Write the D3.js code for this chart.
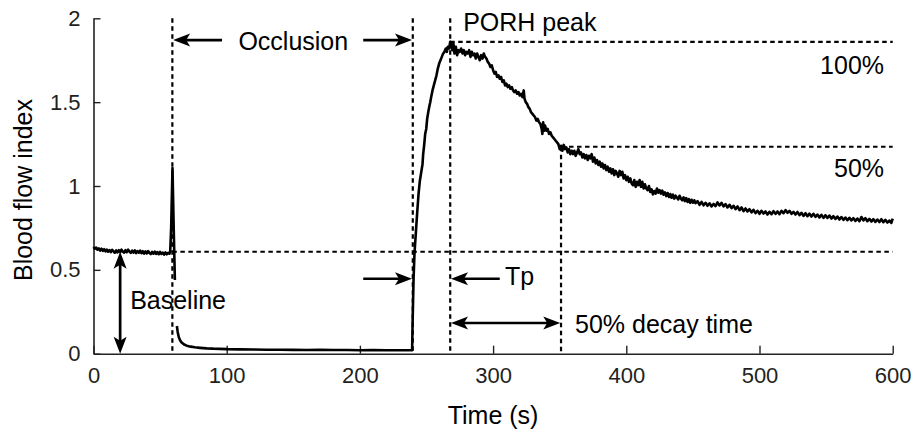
<!DOCTYPE html>
<html lang="en">
<head>
  <meta charset="UTF-8" />
  <title>Blood flow index – PORH</title>
  <script src="https://cdn.jsdelivr.net/npm/d3@7/dist/d3.min.js"></script>
  <style>
    html, body { margin: 0; padding: 0; background: #fff; }
    #viz { width: 915px; height: 433px; }
    text { font-family: "Liberation Sans", Arial, sans-serif; }
  </style>
</head>
<body>
  <div id="viz"></div>

  <script>
  // ticks
  const timeTicks = [0, 100, 200, 300, 400, 500, 600];
  const flowTicks = [0, 0.5, 1, 1.5, 2];

  // key events (s) and levels
  const occlusionStart = 59.2;
  const cuffRelease = 239.7;
  const peakTime = 267.8;
  const halfDecayTime = 351;
  const baselineFlow = 0.608;
  const peakFlow = 1.86;
  const halfFlow = 1.234;

  // [time s, blood flow index]
  const restPhase = [
    [0,0.636],[1,0.626],[2,0.633],[3,0.62],[4,0.628],[5,0.615],[6,0.626],[7,0.613],[8,0.623],[9,0.61],
    [10,0.621],[11,0.608],[12,0.618],[13,0.606],[14,0.619],[15,0.61],[16,0.602],[17,0.616],[18,0.604],[19,0.617],
    [20,0.606],[21,0.62],[22,0.608],[23,0.603],[24,0.617],[25,0.605],[26,0.62],[27,0.609],[28,0.601],[29,0.614],
    [30,0.603],[31,0.616],[32,0.6],[33,0.612],[34,0.602],[35,0.615],[36,0.599],[37,0.611],[38,0.597],[39,0.61],
    [40,0.598],[41,0.612],[42,0.6],[43,0.594],[44,0.607],[45,0.596],[46,0.609],[47,0.595],[48,0.606],[49,0.593],
    [50,0.607],[51,0.595],[52,0.603],[53,0.591],[54,0.604],[55,0.593],[56,0.601],[57,0.596],[57.6,0.61],
    [58.3,0.75],[59.3,1.107],[60.3,0.72],[61.1,0.44]
  ];

  const occlusionPhase = [
    [62.6,0.165],[63.2,0.13],[64,0.1],[65,0.08],[66,0.068],[68,0.055],[70,0.048],[73,0.042],[76,0.038],
    [80,0.035],[85,0.032],[90,0.03],[95,0.029],[100,0.027],[110,0.026],[120,0.025],[130,0.024],[140,0.024],
    [150,0.023],[160,0.022],[170,0.023],[180,0.022],[190,0.022],[200,0.021],[210,0.022],[220,0.021],
    [230,0.021],[239.2,0.021]
  ];

  const reperfusionPhase = [
    [239.6,0.2],[240.3,0.45],[241,0.6],[242,0.72],[243,0.84],[244,0.95],[245,1.03],[246,1.08],[247,1.13],
    [247.5,1.19],[248.2,1.24],[249,1.31],[249.8,1.34],[250.5,1.4],[251.3,1.44],[252,1.47],[252.8,1.5],
    [253.5,1.53],[254.5,1.57],[255.5,1.6],[256.5,1.63],[257.5,1.66],[258.5,1.7],[259.5,1.73],[260.5,1.75],
    [261.5,1.77],[262.5,1.79],[263.5,1.8],[264.5,1.82],[265.3,1.8],[266,1.83],[267,1.82],[267.8,1.86],
    [268.6,1.84],[269.4,1.81],[270.2,1.85],[271,1.79],[272,1.83],[273,1.78],[274,1.81],[275,1.8],[276,1.82],
    [277,1.79],[278,1.81],[279,1.78],[280,1.8],[281,1.79],[282,1.81],[283,1.77],[284,1.8],[285,1.78],
    [286,1.79],[287,1.76],[288,1.79],[289,1.77],[290,1.75],[291,1.78],[292,1.76],[293,1.79],[294,1.77],
    [295,1.76],[296,1.74],[297,1.73],[298,1.71],[299,1.72],[300,1.69],[301,1.67],[302,1.68],[303,1.65],
    [304,1.66],[305,1.64],[306,1.65],[307,1.62],[308,1.63],[309,1.6],[310,1.61],[311,1.59],[312,1.6],
    [313,1.58],[314,1.59],[315,1.57],[316,1.56],[317,1.57],[318,1.55],[319,1.56],[320,1.54],[321,1.55],
    [322,1.53],[323,1.57],[323.6,1.52],[324.5,1.5],[325.5,1.49],[326.5,1.47],[327.5,1.46],[328.5,1.44],
    [329.5,1.43],[330.5,1.42],[331.5,1.41],[332.5,1.39],[333.5,1.4],[334.5,1.38],[335.5,1.37],[336.5,1.34],
    [337,1.31],[337.6,1.38],[338.3,1.33],[339,1.36],[340,1.33],[341,1.34],[342,1.31],[343,1.32],[344,1.3],
    [345,1.29],[346,1.28],[347,1.27],[348,1.26],[349,1.25],[350,1.22],[351,1.24],[352,1.21],[353,1.245],
    [354,1.22],[355,1.23],[356,1.2],[357,1.22],[358,1.19],[359,1.21],[360,1.19],[361,1.21],[362,1.18],
    [363,1.2],[364,1.22],[365,1.19],[366,1.2],[367,1.17],[368,1.19],[369,1.165],[370,1.185],[371,1.155],
    [372,1.18],[373,1.165],[374,1.19],[375,1.145],[376,1.17],[377,1.135],[378,1.155],[379,1.125],[380,1.145],
    [381,1.115],[382,1.135],[383,1.105],[384,1.125],[385,1.095],[386,1.115],[387,1.085],[388,1.105],[389,1.075],
    [390,1.1],[391,1.065],[392,1.09],[393,1.075],[394,1.055],[395,1.09],[396,1.065],[397,1.085],[398,1.045],
    [399,1.065],[400,1.035],[401,1.055],[402,1.025],[403,1.045],[404,1.015],[405,1.005],[406,1.035],[407,0.995],
    [408,1.025],[409,1.005],[410,1.035],[411,0.995],[412,1.025],[413,0.985],[414,1.01],[415,0.985],[416,0.975],
    [417,1.0],[418,0.965],[419,0.98],[420,0.95],[421,0.97],[422,0.955],[423,0.985],[424,0.96],[425,0.975],
    [426,0.955],[427,0.972],[428,0.948],[429,0.962],[430,0.94],[431,0.958],[432,0.935],[433,0.952],[434,0.93],
    [435,0.948],[436,0.925],[437,0.942],[438,0.93],[439,0.92],[440,0.942],[441,0.925],[442,0.915],[443,0.932],
    [444,0.91],[445,0.928],[446,0.905],[447,0.922],[448,0.9],[449,0.918],[450,0.9],[451,0.915],[452,0.898],
    [453.5,0.91],[455,0.888],[456.5,0.905],[458,0.885],[459.5,0.9],[461,0.882],[462.5,0.897],[464,0.878],
    [465.5,0.893],[467,0.88],[468.5,0.902],[470,0.884],[471.5,0.9],[473,0.878],[474.5,0.892],[476,0.872],
    [477.5,0.888],[479,0.868],[480.5,0.882],[482,0.862],[483.5,0.878],[485,0.856],[486.5,0.872],[488,0.85],
    [489.5,0.866],[491,0.848],[492.5,0.862],[494,0.843],[495.5,0.858],[497,0.838],[498.5,0.852],[500,0.834],
    [501.5,0.852],[503,0.836],[504.5,0.848],[506,0.83],[507.5,0.846],[509,0.832],[510.5,0.85],[512,0.834],
    [513.5,0.848],[515,0.832],[516.5,0.852],[518,0.838],[519.5,0.856],[521,0.84],[522.5,0.852],[524,0.834],
    [525.5,0.846],[527,0.83],[528.5,0.845],[530,0.826],[531.5,0.84],[533,0.822],[534.5,0.838],[536,0.82],
    [537.5,0.835],[539,0.818],[540.5,0.834],[542,0.816],[543.5,0.83],[545,0.812],[546.5,0.828],[548,0.81],
    [549.5,0.826],[551,0.81],[552.5,0.824],[554,0.806],[555.5,0.82],[557,0.804],[558.5,0.818],[560,0.8],
    [561.5,0.815],[563,0.798],[564.5,0.812],[566,0.796],[567.5,0.81],[569,0.795],[570.5,0.808],[572,0.792],
    [573.5,0.806],[575,0.79],[576.5,0.815],[578,0.795],[579.5,0.808],[581,0.79],[582.5,0.804],[584,0.788],
    [585.5,0.802],[587,0.786],[588.5,0.8],[590,0.785],[591.5,0.802],[593,0.784],[594.5,0.798],[596,0.782],
    [597.5,0.794],[599,0.78],[600,0.805]
  ];

  function drawViz() {
    const W = 915, H = 433;
    const margin = { top: 18.3, right: 22.3, bottom: 79.3, left: 93.5 };

    const svg = d3.select('#viz').append('svg')
      .attr('width', W).attr('height', H);

    const x = d3.scaleLinear().domain([0, 600]).range([margin.left, W - margin.right]);
    const y = d3.scaleLinear().domain([0, 2]).range([H - margin.bottom, margin.top]);

    // axes (ticks point inward)
    const xAxis = svg.append('g')
      .attr('transform', `translate(0,${y(0)})`)
      .call(d3.axisBottom(x).tickValues(timeTicks).tickSize(-8).tickSizeOuter(0).tickPadding(14));
    const yAxis = svg.append('g')
      .attr('transform', `translate(${x(0)},0)`)
      .call(d3.axisLeft(y).tickValues(flowTicks).tickSize(-7).tickSizeOuter(0).tickPadding(13)
        .tickFormat(d3.format('')));
    [xAxis, yAxis].forEach(g => {
      g.select('.domain').attr('stroke', '#222').attr('stroke-width', 1.6);
      g.selectAll('.tick line').attr('stroke', '#222').attr('stroke-width', 1.4);
      g.selectAll('.tick text').attr('fill', '#231f20').style('font-size', '22px')
        .style('font-family', '"Liberation Sans", Arial, sans-serif');
    });
    xAxis.selectAll('.tick text').attr('dy', '0.71em');

    // axis titles
    svg.append('text')
      .attr('x', x(300)).attr('y', 424)
      .attr('text-anchor', 'middle').style('font-size', '25px')
      .text('Time (s)');
    svg.append('text')
      .attr('transform', `translate(32,${y(1) + 4}) rotate(-90)`)
      .attr('text-anchor', 'middle').style('font-size', '25px')
      .text('Blood flow index');

    // dashed guides
    const dash = (x1, y1, x2, y2) => svg.append('line')
      .attr('x1', x(x1)).attr('y1', y(y1)).attr('x2', x(x2)).attr('y2', y(y2))
      .attr('stroke', '#000').attr('stroke-width', 2.2).attr('stroke-dasharray', '4.5 3.5');
    dash(occlusionStart, 2, occlusionStart, 0);
    dash(cuffRelease, 2, cuffRelease, 0);
    dash(peakTime, 2, peakTime, 0);
    dash(halfDecayTime, halfFlow, halfDecayTime, 0);
    dash(occlusionStart, baselineFlow, 600, baselineFlow);
    dash(peakTime, peakFlow, 600, peakFlow);
    dash(halfDecayTime, halfFlow, 600, halfFlow);

    // signal
    const line = d3.line().x(d => x(d[0])).y(d => y(d[1]));
    [restPhase, occlusionPhase.concat(reperfusionPhase)].forEach(seg => {
      svg.append('path').datum(seg)
        .attr('fill', 'none').attr('stroke', '#000')
        .attr('stroke-width', 2.6).attr('stroke-linejoin', 'round')
        .attr('d', line);
    });

    // arrows (data coords); heads at the end, or at both ends
    const headLen = 17, headHalf = 6.5;
    function head(px, py, ux, uy) {
      // tip at (px,py), pointing along (ux,uy)
      const bx = px - ux * headLen, by = py - uy * headLen;
      const nx = -uy, ny = ux;
      const nbx = px - ux * (headLen - 4), nby = py - uy * (headLen - 4);
      svg.append('path')
        .attr('d', `M${px},${py}L${bx + nx * headHalf},${by + ny * headHalf}L${nbx},${nby}L${bx - nx * headHalf},${by - ny * headHalf}Z`)
        .attr('fill', '#000');
    }
    function arrow(t1, v1, t2, v2, both) {
      const x1 = x(t1), y1 = y(v1), x2 = x(t2), y2 = y(v2);
      const len = Math.hypot(x2 - x1, y2 - y1);
      const ux = (x2 - x1) / len, uy = (y2 - y1) / len;
      const sx = both ? x1 + ux * (headLen - 5) : x1, sy = both ? y1 + uy * (headLen - 5) : y1;
      svg.append('line')
        .attr('x1', sx).attr('y1', sy)
        .attr('x2', x2 - ux * (headLen - 5)).attr('y2', y2 - uy * (headLen - 5))
        .attr('stroke', '#000').attr('stroke-width', 2.7);
      head(x2, y2, ux, uy);
      if (both) head(x1, y1, -ux, -uy);
    }
    const occY = 1.87;
    arrow(96.5, occY, occlusionStart + 0.6, occY);
    arrow(202.5, occY, cuffRelease - 0.6, occY);
    arrow(20, baselineFlow, 20, 0, true);
    arrow(202.5, 0.447, cuffRelease - 0.6, 0.447);
    arrow(305, 0.447, peakTime + 0.6, 0.447);
    arrow(peakTime + 0.6, 0.183, halfDecayTime - 0.6, 0.183, true);

    // annotations
    const label = (txt, t, px, anchor) => svg.append('text')
      .attr('x', x(t)).attr('y', px)
      .attr('text-anchor', anchor || 'start').style('font-size', '25px')
      .text(txt);
    label('Occlusion', 150, 49.5, 'middle');
    label('PORH peak', 277.5, 30.5);
    label('100%', 593.5, 73.5, 'end');
    label('50%', 593.5, 176.5, 'end');
    label('Baseline', 27.5, 308.5);
    label('Tp', 309, 285);
    label('50% decay time', 361.5, 332.5);
  }

  document.addEventListener('DOMContentLoaded', drawViz);
  </script>
</body>
</html>
